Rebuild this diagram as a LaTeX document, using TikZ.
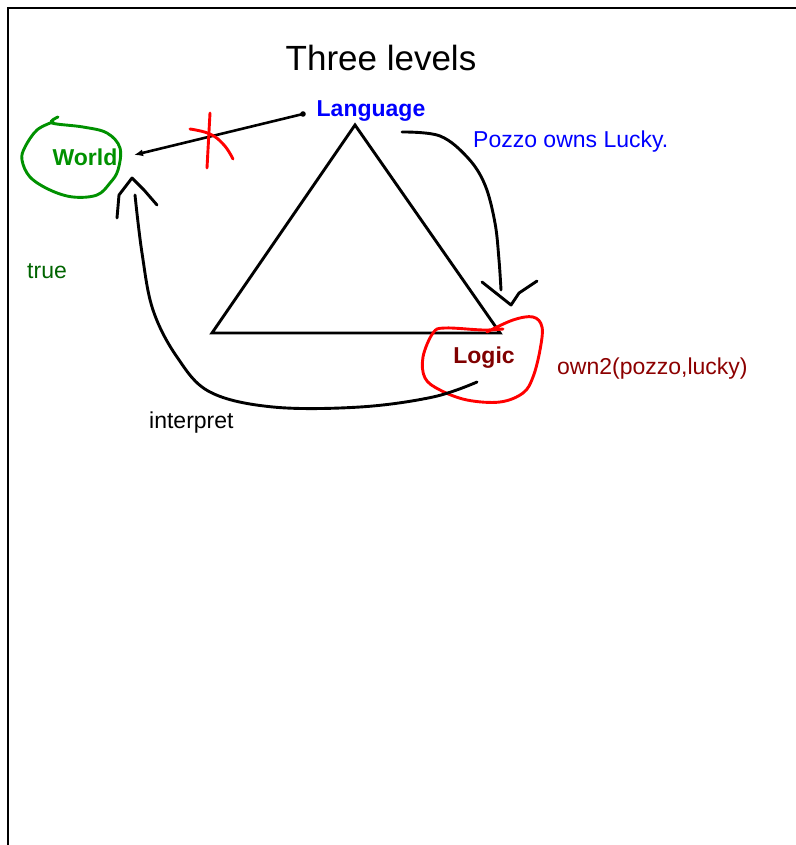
\documentclass[tikz,border=0pt]{standalone}
\usepackage{fontspec}
\setmainfont{Liberation Sans}
\usetikzlibrary{arrows.meta}
\definecolor{wgreen}{RGB}{0,145,0}
\definecolor{tgreen}{RGB}{0,100,0}
\definecolor{lred}{RGB}{128,0,0}
\definecolor{ored}{RGB}{140,0,0}
\tikzset{
  lbl/.style={inner sep=0pt,font=\fontsize{23}{27}\selectfont},
  stroke/.style={line width=2.9pt,line cap=round,line join=round},
}
\begin{document}
\begin{tikzpicture}[x=1pt,y=-1pt]
\useasboundingbox (0,0) rectangle (795,845);
\draw[line width=2pt] (8,860) -- (8,8) -- (810,8);
\node[font=\fontsize{35}{40}\selectfont,inner sep=0pt] (title) at (381,58) {Three levels};
\node[lbl,blue,font=\fontsize{23}{27}\selectfont\bfseries] (lang) at (371,111) {Language};
\node[lbl,blue,anchor=west] (pozzo) at (473,142) {Pozzo owns Lucky.};
\node[lbl,wgreen,font=\fontsize{23}{27}\selectfont\bfseries] (world) at (85,157) {World};
\node[lbl,tgreen,anchor=west] (true) at (27,271) {true};
\node[lbl,anchor=west] (interp) at (149,423) {interpret};
\node[lbl,lred,font=\fontsize{23}{27}\selectfont\bfseries] (logic) at (484,358) {Logic};
\node[lbl,ored,anchor=west] (own) at (557,369) {own2(pozzo,lucky)};
% triangle
\coordinate (apex) at (355,125);
\coordinate (tl) at (212,333);
\coordinate (tr) at (500,333);
\draw[stroke,line join=miter] (apex) -- (tl) -- (tr) -- cycle;
% Language -> World
\coordinate (ls) at (303,114);
\coordinate (we) at (134,155);
\fill (ls) circle (2.8pt);
\draw[line width=2.6pt,-{Latex[length=9pt,width=7pt]}] (ls) -- (we);
% red cross
\draw[stroke,red] (210,113) -- (207,168);
\draw[stroke,red] plot[smooth,tension=0.7] coordinates {(190,129) (210,134) (224,145) (233,159)};
% World loop
\draw[stroke,wgreen] plot[smooth,tension=0.6] coordinates {(58,117) (52,123) (83,127) (107,133) (120,148) (118,170) (110,183) (97,195) (73,197) (50,190) (30,177) (22,160) (25,147) (37,130) (53,122)};
% Logic loop
\draw[stroke,red] plot[smooth,tension=0.6] coordinates {(487,332) (513,320) (533,317) (542,327) (540,350) (533,377) (523,393) (500,402) (467,400) (440,390) (425,378) (423,357) (433,333) (445,328) (483,330) (503,329)};
% Language -> Logic
\draw[stroke] plot[smooth,tension=0.6] coordinates {(402,132) (440,136) (468,158) (485,185) (495,223) (499,260) (501,290)};
\draw[stroke] (482,282) -- (511,305) -- (519,293) -- (537,281);
% interpret: Logic -> World
\draw[stroke] plot[smooth,tension=0.6] coordinates {(477,382) (433,397) (360,407) (273,407) (210,392) (177,357) (153,310) (142,253) (135,195)};
\draw[stroke] (117,218) -- (119,195) -- (132,178) -- (144,190) -- (157,205);
\end{tikzpicture}
\end{document}
